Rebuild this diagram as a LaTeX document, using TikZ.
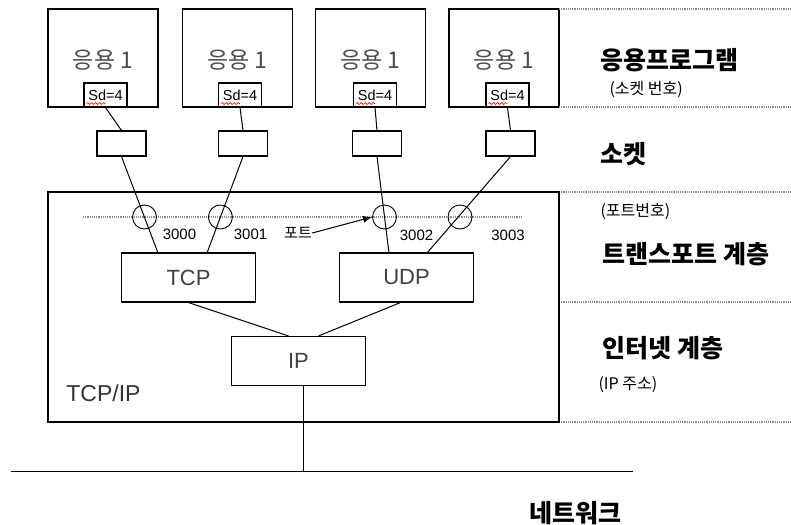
\documentclass[tikz,border=0pt]{standalone}
\usepackage{fontspec}
\setmainfont{Liberation Sans}
\newfontfamily\kr{Noto Sans CJK KR}
\usetikzlibrary{
	arrows.meta,
	positioning,
	calc,
	decorations.pathmorphing
}

\begin{document}
\begin{tikzpicture}[x=1pt,y=-1pt,>={Latex[length=9pt,width=7pt]},
		every node/.style={inner sep=0pt},
		appbox/.style={draw,line width=1.3pt,minimum width=110pt,minimum height=98pt},
		apptext/.style={text=black!70,font=\kr\fontsize{23}{23}\selectfont},
		sdbox/.style={draw,fill=white,line width=1.1pt,minimum width=43pt,minimum height=24pt,font=\fontsize{14.5}{14.5}\selectfont},
		sockbox/.style={draw,line width=1.1pt,minimum width=49pt,minimum height=25pt},
		protobox/.style={draw,line width=1.1pt,minimum width=134pt,minimum height=49pt,text=black!75,font=\fontsize{22}{22}\selectfont},
		portring/.style={draw,circle,line width=0.9pt,minimum size=24pt},
		spell/.style={red,line width=0.6pt,decorate,decoration={snake,segment length=4pt,amplitude=1pt}},
		sep/.style={densely dotted,line width=1.2pt,black!45},
		layer/.style={anchor=west,font=\kr\bfseries\fontsize{25}{25}\selectfont},
		note/.style={anchor=west,font=\kr\fontsize{16}{16}\selectfont},
		num/.style={font=\fontsize{15}{15}\selectfont},
		line width=1pt]
		
		\useasboundingbox (0,0) rectangle (791,524);
		
		% applications and sockets
		\foreach \i/\a/\d/\s in {1/103/105.5/121.5,2/237.5/240/243,3/370.5/375/377,4/504/507.5/510.5}{
			\node[appbox] (app\i) at (\a,58) {};
			\node[apptext] (name\i) at (\a,60) {응용 1};
			\node[sdbox] (sd\i) at (\d,95) {Sd=4};
			\draw[spell] ($(sd\i.south west)+(3,-4)$) -- ++(19,0);
			\node[sockbox] (sock\i) at (\s,143.5) {};
			\draw (sd\i.south) -- (sock\i.north);
		}
		
		% layer separators
		\foreach \y in {9,107,192,302,422}
		\draw[sep] (559,\y) -- (791,\y);
		
		% TCP/IP stack
		\node[draw,line width=1.3pt,minimum width=511pt,minimum height=230pt] (stack) at (303.5,307) {};
		\node[font=\fontsize{23}{23}\selectfont,text=black!80] (stacklbl) at (103.5,393) {TCP/IP};
		\draw[sep] (83,217) -- (523,217);
		
		\node[protobox] (tcp) at (188.5,277.5) {TCP};
		\node[protobox] (udp) at (406.5,277.5) {UDP};
		\node[protobox] (ip) at (298.5,361) {IP};
		
		\coordinate (t1) at (158,253);
		\coordinate (t2) at (207,253);
		\coordinate (u1) at (389,253);
		\coordinate (u2) at (427,253);
		
		\draw (sock1.south) -- (t1);
		\draw (sock2.south) -- (t2);
		\draw (sock3.south) -- (u1);
		\draw (sock4.south) -- (u2);
		
		% ports
		\node[portring] (p1) at (144.5,217) {};
		\node[portring] (p2) at (220.4,217) {};
		\node[portring] (p3) at (384.5,217) {};
		\node[portring] (p4) at (460,217) {};
		
		\node[num] (n3000) at (179.5,234) {3000};
		\node[num] (n3001) at (250.5,234) {3001};
		\node[num] (n3002) at (416.5,235) {3002};
		\node[num] (n3003) at (508,235) {3003};
		\node[font=\kr\fontsize{15}{15}\selectfont] (portlbl) at (298,233) {포트};
		\draw[->] (portlbl.east) -- (p3.west);
		
		\draw (tcp.south) -- ([xshift=-10pt]ip.north);
		\draw ([xshift=-6pt]udp.south) -- ([xshift=20pt]ip.north);
		
		% network
		\coordinate (netL) at (11,471);
		\coordinate (netR) at (633,471);
		\draw (netL) -- (netR);
		\draw ([xshift=5pt]ip.south) -- ([xshift=5pt]ip.south |- netL);
		
		% layer names
		\node[layer] (lapp) at (600,60) {응용프로그램};
		\node[note] (lsock) at (609,89) {(소켓 번호)};
		\node[layer] (lsocket) at (600,154) {소켓};
		\node[note] (lport) at (600,211) {(포트번호)};
		\node[layer] (ltrans) at (602,254) {트랜스포트 계층};
		\node[layer] (linet) at (602,348) {인터넷 계층};
		\node[note] (laddr) at (598,385) {(IP 주소)};
		\node[layer,anchor=center] (lnet) at (575,513) {네트워크};
		
	\end{tikzpicture}
\end{document}
